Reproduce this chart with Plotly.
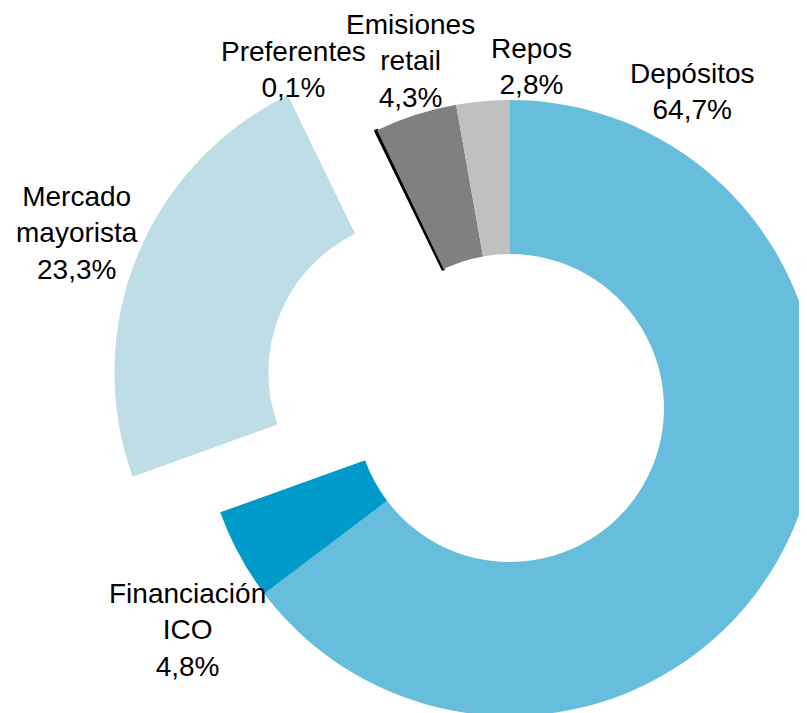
import numpy as np
import plotly.graph_objects as go

# ---- data ----
labels = ["Depósitos", "Financiación ICO", "Mercado mayorista",
          "Preferentes", "Emisiones retail", "Repos"]
label_lines = ["Depósitos", "Financiación<br>ICO", "Mercado<br>mayorista",
               "Preferentes", "Emisiones<br>retail", "Repos"]
values = [64.7, 4.8, 23.3, 0.1, 4.3, 2.8]
colors = ["#66BDDC", "#009BCB", "#BEDDE6", "#000000", "#808080", "#C0C0C0"]
exploded = "Mercado mayorista"

# ---- layout geometry (pixels, figure coords; page body adds an 8px offset) ----
W, H = 830, 730
OFF = 8
cx, cy, r = 510 - OFF, 408 - OFF, 308
pull_frac = 0.307
FONT = "Liberation Sans, Arial, sans-serif"


def dom(x0, y0, rad):
    return dict(x=[max(0.0, (x0 - rad) / W), min(1.0, (x0 + rad) / W)],
                y=[max(0.0, (H - y0 - rad) / H), min(1.0, (H - y0 + rad) / H)])


transparent = "rgba(0,0,0,0)"
idx = labels.index(exploded)
total = sum(values)
mid = (sum(values[:idx]) + values[idx] / 2) / total * 2 * np.pi
d = pull_frac * r
cx2 = cx + np.sin(mid) * d
cy2 = cy - np.cos(mid) * d

line_w = [2.5 if l == "Preferentes" else 0 for l in labels]

colors1 = [transparent if l == exploded else c for l, c in zip(labels, colors)]
colors2 = [c if l == exploded else transparent for l, c in zip(labels, colors)]

fig = go.Figure()
fig.add_trace(go.Pie(
    labels=labels, values=values, sort=False, direction="clockwise",
    rotation=0, hole=0.5, textinfo="none", hoverinfo="label+percent",
    marker=dict(colors=colors1, line=dict(color="#000000", width=line_w)),
    domain=dom(cx, cy, r), showlegend=False,
))
fig.add_trace(go.Pie(
    labels=labels, values=values, sort=False, direction="clockwise",
    rotation=0, hole=0.5, textinfo="none", hoverinfo="label+percent",
    marker=dict(colors=colors2, line=dict(width=0)),
    domain=dom(cx2, cy2, r), showlegend=False,
))

# label positions (screen pixel centres)
label_pos = {
    "Depósitos": (692, 91),
    "Financiación ICO": (187, 630),
    "Mercado mayorista": (77, 233),
    "Preferentes": (293, 69),
    "Emisiones retail": (410, 61),
    "Repos": (531, 66),
}

annotations = []
for l, txt, v in zip(labels, label_lines, values):
    px, py = label_pos[l]
    annotations.append(dict(
        x=(px - OFF) / W, y=1 - (py - OFF) / H, xref="paper", yref="paper",
        text=f"{txt}<br>{v:.1f}".replace(".", ",") + "%",
        showarrow=False, xanchor="center", yanchor="middle",
        font=dict(family=FONT, size=28, color="#000000"),
    ))

fig.update_layout(
    width=W, height=H, margin=dict(l=0, r=0, t=0, b=0),
    paper_bgcolor="white", plot_bgcolor="white",
    annotations=annotations,
)

fig.write_html("out.html")
